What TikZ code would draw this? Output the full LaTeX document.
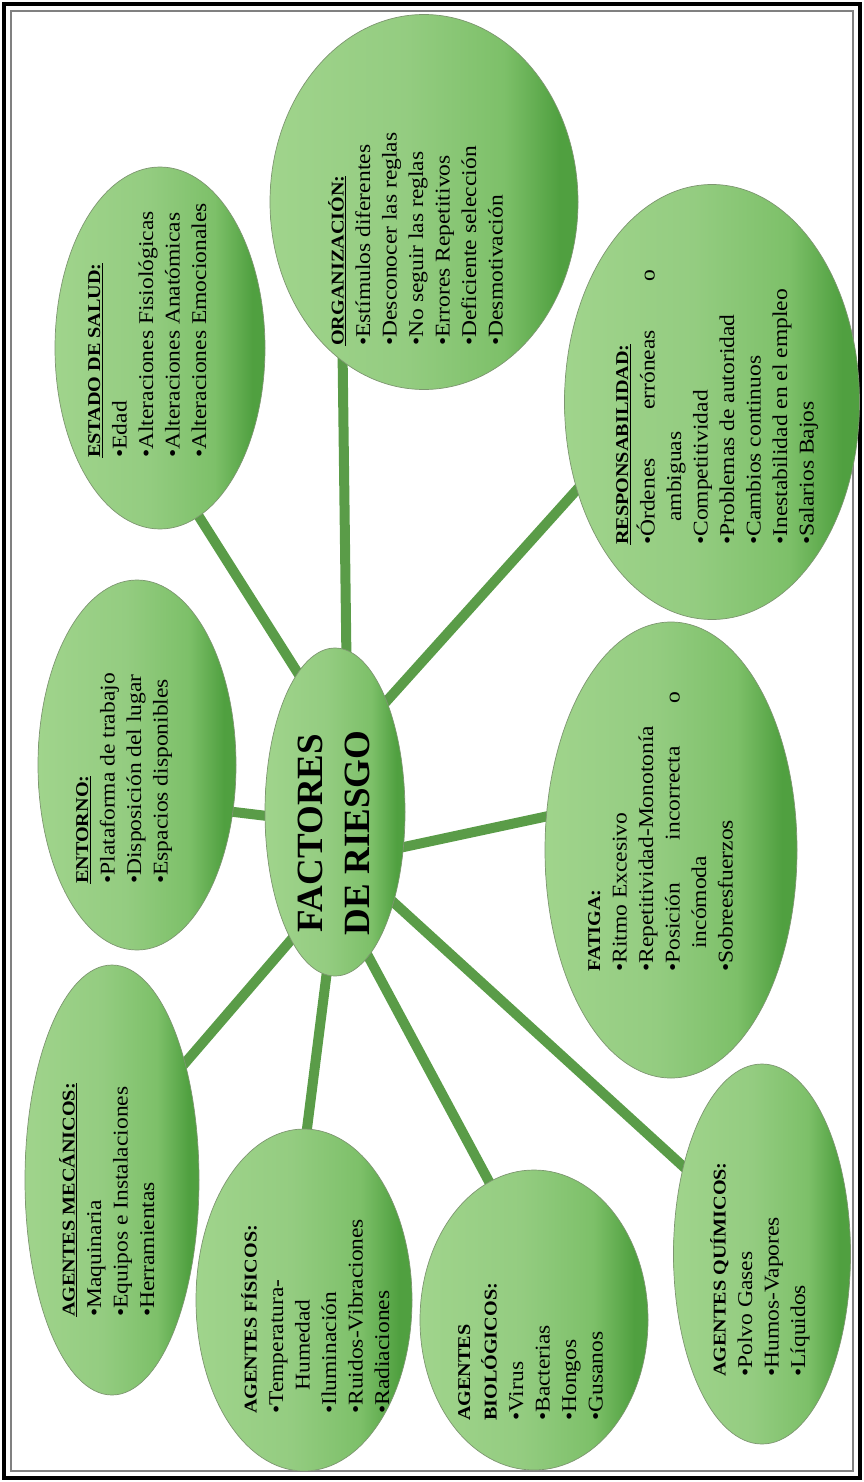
\documentclass[tikz,border=0pt]{standalone}
\usepackage{fontspec}
\setmainfont{Liberation Serif}[FakeStretch=1.12]
\newfontfamily\titlefont{Liberation Serif}
\usetikzlibrary{shapes.geometric,backgrounds}
\definecolor{gLight}{RGB}{160,212,140}
\definecolor{gMid}{RGB}{125,192,105}
\definecolor{gDark}{RGB}{80,160,64}
\definecolor{gEdge}{RGB}{125,150,112}
\definecolor{gStem}{RGB}{90,156,72}
\pgfdeclarehorizontalshading{leaf}{100bp}{color(0bp)=(gLight); color(25bp)=(gLight); color(47bp)=(gLight!85!gDark); color(63bp)=(gMid); color(72bp)=(gDark); color(75bp)=(gDark); color(100bp)=(gDark)}
\newcommand{\hd}[1]{{\fontsize{18}{26.5}\selectfont\bfseries #1}}
\newcommand{\wrap}{\hspace*{1.1em}}
\newcommand{\just}[2]{\hbox to #1{#2}}

\begin{document}
\begin{tikzpicture}[x=1pt,y=-1pt,
    blob/.style={ellipse,draw=gEdge,line width=0.7pt,shade,shading=leaf,inner sep=0pt},
    txt/.style={rotate=90,anchor=north west,inner sep=0pt,align=left,
        font=\fontsize{21}{26.5}\selectfont},
    stem/.style={draw=gStem,line width=10pt,shorten <=-6pt,shorten >=-6pt}]
        \useasboundingbox (0,0) rectangle (864,1482);
        % Draw the frame
        \draw[line width=4pt] (4,4) rectangle (860,1478);
        \draw[gray,line width=1.2pt] (11,11) rectangle (853,1471);
        % Draw the ellipses
        \node[blob,minimum width=140pt,minimum height=328pt] (ctr) at (335,812) {};
        \node[blob,minimum width=210pt,minimum height=362pt] (salud) at (160,348) {};
        \node[blob,minimum width=308pt,minimum height=375pt] (org) at (424,202) {};
        \node[blob,minimum width=295pt,minimum height=435pt] (resp) at (712,402) {};
        \node[blob,minimum width=198pt,minimum height=370pt] (ent) at (137,765) {};
        \node[blob,minimum width=252pt,minimum height=456pt] (fat) at (671,850) {};
        \node[blob,minimum width=174pt,minimum height=430pt] (mec) at (112,1180) {};
        \node[blob,minimum width=216pt,minimum height=342pt] (fis) at (304,1300) {};
        \node[blob,minimum width=228pt,minimum height=300pt] (bio) at (534,1320) {};
        \node[blob,minimum width=177pt,minimum height=380pt] (qui) at (762,1254) {};
        % Draw the stems
        \begin{pgfonlayer}{background}
            \draw[stem] (ctr.105) -- (salud.283);
            \draw[stem] (ctr.86) -- (org.243);
            \draw[stem] (ctr.65) -- (resp.213);
            \draw[stem] (ctr.183) -- (ent.334);
            \draw[stem] (ctr.333) -- (fat.165);
            \draw[stem] (ctr.303) -- (qui.132);
            \draw[stem] (ctr.283) -- (bio.108);
            \draw[stem] (ctr.267) -- (fis.89);
            \draw[stem] (ctr.251) -- (mec.58);
        \end{pgfonlayer}
        % Label the ellipses
        \node[rotate=90,align=center,font=\titlefont\fontsize{37}{47}\selectfont\bfseries] (title) at (334,833) {FACTORES\\DE RIESGO};
        \node[txt] (saludtxt) at (88,458) {\hd{\underline{ESTADO DE SALUD:}}\\
            \textbullet Edad\\ \textbullet Alteraciones Fisiológicas\\
            \textbullet Alteraciones Anatómicas\\ \textbullet Alteraciones Emocionales};
        \node[txt] (orgtxt) at (328,346) {\hd{\underline{ORGANIZACIÓN:}}\\
            \textbullet Estímulos diferentes\\ \textbullet Desconocer las reglas\\
            \textbullet No seguir las reglas\\ \textbullet Errores Repetitivos\\
            \textbullet Deficiente selección\\ \textbullet Desmotivación};
        \node[txt] (resptxt) at (616,545) {\hd{\underline{RESPONSABILIDAD:}}\\
            \just{275pt}{\textbullet Órdenes\hfill erróneas\hfill o}\\ \wrap ambiguas\\
            \textbullet Competitividad\\ \textbullet Problemas de autoridad\\
            \textbullet Cambios continuos\\ \textbullet Inestabilidad en el empleo\\
            \textbullet Salarios Bajos};
        \node[txt] (enttxt) at (76,884) {\hd{\underline{ENTORNO:}}\\
            \textbullet Plataforma de trabajo\\ \textbullet Disposición del lugar\\
            \textbullet Espacios disponibles};
        \node[txt] (fattxt) at (588,972) {\hd{FATIGA:}\\
            \textbullet Ritmo Excesivo\\ \textbullet Repetitividad-Monotonía\\
            \just{280pt}{\textbullet Posición\hfill incorrecta\hfill o}\\ \wrap incómoda\\
            \textbullet Sobreesfuerzos};
        \node[txt] (mectxt) at (59,1317) {\hd{\underline{AGENTES MECÁNICOS:}}\\
            \textbullet Maquinaria\\ \textbullet Equipos e Instalaciones\\
            \textbullet Herramientas};
        \node[txt] (fistxt) at (241,1414) {\hd{AGENTES FÍSICOS:}\\
            \textbullet Temperatura-\\ \wrap Humedad\\ \textbullet Iluminación\\
            \textbullet Ruidos-Vibraciones\\ \textbullet Radiaciones};
        \node[txt] (biotxt) at (458,1421) {\hd{AGENTES}\\ \hd{BIOLÓGICOS:}\\
            \textbullet Virus\\ \textbullet Bacterias\\ \textbullet Hongos\\ \textbullet Gusanos};
        \node[txt] (quitxt) at (710,1377) {\hd{AGENTES QUÍMICOS:}\\
            \textbullet Polvo Gases\\ \textbullet Humos-Vapores\\ \textbullet Líquidos};
\end{tikzpicture}
\end{document}
